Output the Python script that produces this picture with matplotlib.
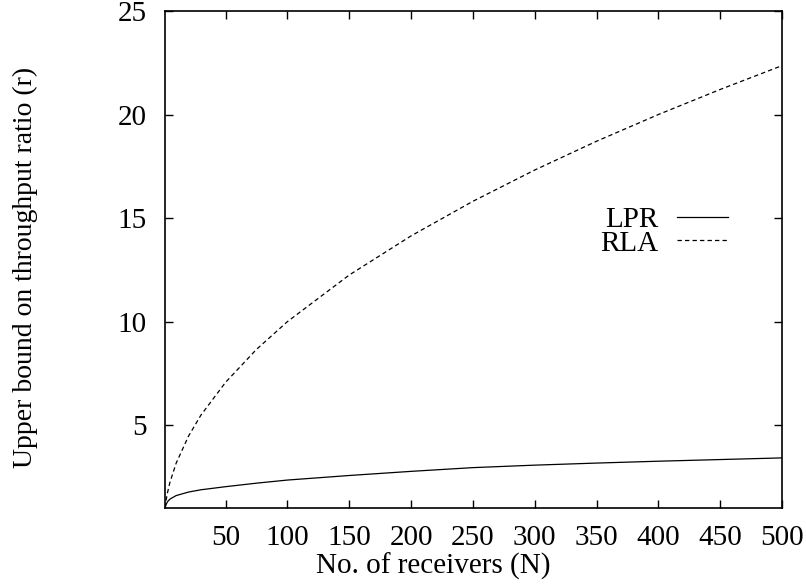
import matplotlib
matplotlib.use('Agg')
import matplotlib.pyplot as plt

# values
n_receivers = [1, 2, 3, 5, 10, 20, 30, 50, 75, 100, 150, 200, 250, 300, 350, 400, 450, 500]
lpr_ratio = [1.0, 1.18, 1.3, 1.43, 1.6, 1.77, 1.88, 2.03, 2.2, 2.35, 2.57, 2.77, 2.95, 3.07, 3.17, 3.26, 3.34, 3.42]
rla_ratio = [1.0, 1.41, 1.73, 2.24, 3.16, 4.47, 5.48, 7.07, 8.66, 10.0, 12.25, 14.14, 15.81, 17.32, 18.71, 20.0, 21.21, 22.36]

x_ticks = [50, 100, 150, 200, 250, 300, 350, 400, 450, 500]
y_ticks = [5, 10, 15, 20, 25]

plt.rcParams['font.family'] = ['Liberation Serif', 'DejaVu Serif']
plt.rcParams['font.size'] = 21

fig = plt.figure(figsize=(8.06, 5.85), dpi=100)
ax = fig.add_axes([0.2047, 0.1316, 0.7655, 0.8496])

ax.plot(n_receivers, lpr_ratio, color='black', linewidth=0.9, label='LPR')
ax.plot(n_receivers, rla_ratio, color='black', linewidth=0.9, dashes=(3.5, 2.5), label='RLA')

ax.set_xlim(1, 500)
ax.set_ylim(1, 25)
ax.set_xticks(x_ticks)
ax.set_yticks(y_ticks)
ax.tick_params(direction='in', length=6, width=1, top=True, right=True)
ax.tick_params(axis='x', pad=12)
ax.tick_params(axis='y', pad=13)
for s in ax.spines.values():
    s.set_linewidth(1.2)

ax.set_xlabel('No. of receivers (N)')
ax.xaxis.set_label_coords(0.434, -0.09)
ax.set_ylabel('Upper bound on throughput ratio (r)', fontsize=20, va='center')
ax.yaxis.set_label_coords(-0.227, 0.485)

ax.legend(loc='center right', bbox_to_anchor=(0.9125, 0.556), frameon=False, markerfirst=False,
          handlelength=1.75, handletextpad=0.65, labelspacing=-0.1, borderpad=0, borderaxespad=0)

fig.savefig('out.png', dpi=100)
